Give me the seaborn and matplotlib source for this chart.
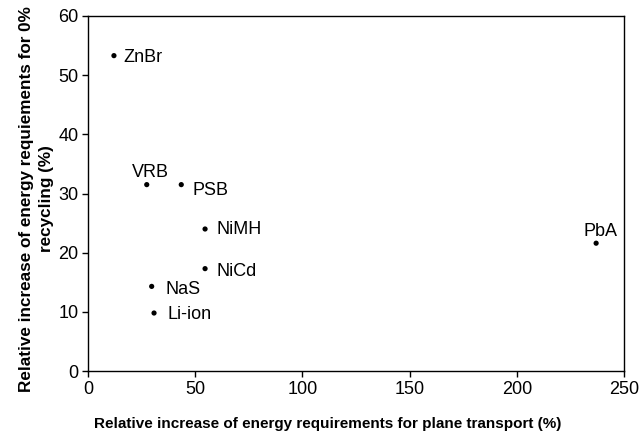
import matplotlib
matplotlib.use("Agg")
import matplotlib.pyplot as plt
import pandas as pd
import seaborn as sns

# --- Data ---
batteries = ["ZnBr", "VRB", "PSB", "NiMH", "NiCd", "NaS", "Li-ion", "PbA"]
plane_increase = [12.1, 27.4, 43.5, 54.6, 54.6, 29.7, 30.8, 237.0]
recycling_increase = [53.3, 31.5, 31.5, 24.0, 17.3, 14.3, 9.8, 21.6]

# label placement (offset in points, ha, va)
LABEL_POS = {
    "ZnBr": ((7, -1.5), "left", "center"),
    "VRB": ((3, 8.5), "center", "center"),
    "PSB": ((8, -4), "left", "center"),
    "NiMH": ((8, 0), "left", "center"),
    "NiCd": ((8, -2), "left", "center"),
    "NaS": ((10, -2), "left", "center"),
    "Li-ion": ((9.5, -1), "left", "center"),
    "PbA": ((3.5, 8.5), "center", "center"),
}

sns.set_style("ticks")
plt.rcParams["font.family"] = ["Liberation Sans", "DejaVu Sans"]
plt.rcParams["axes.labelcolor"] = "black"
plt.rcParams["text.color"] = "black"

df = pd.DataFrame({"battery": batteries,
                   "plane": plane_increase,
                   "recycling": recycling_increase})

fig = plt.figure(figsize=(6.44, 4.37), dpi=100)
ax = fig.add_axes([88 / 644, 1 - 371 / 437, 536 / 644, 355 / 437])

sns.scatterplot(data=df, x="plane", y="recycling", ax=ax,
                color="black", s=14, edgecolor="none", zorder=3)

for _, row in df.iterrows():
    off, ha, va = LABEL_POS[row["battery"]]
    ax.annotate(row["battery"], (row["plane"], row["recycling"]),
                xytext=off, textcoords="offset points",
                ha=ha, va=va, fontsize=13, color="black")

ax.set_xlim(0, 250)
ax.set_ylim(0, 60)
ax.set_xticks(range(0, 251, 50))
ax.set_yticks(range(0, 61, 10))
ax.tick_params(direction="out", length=4, width=1, labelsize=13,
               colors="black", pad=3)
for side in ["top", "right", "left", "bottom"]:
    ax.spines[side].set_visible(True)
    ax.spines[side].set_color("black")
    ax.spines[side].set_linewidth(1)

ax.set_xlabel("Relative increase of energy requirements for plane transport (%)",
              fontsize=11, fontweight="bold", color="black")
ax.set_ylabel("Relative increase of energy requiements for 0%\nrecycling (%)",
              fontsize=12.3, fontweight="bold", linespacing=1.4, color="black")
ax.xaxis.set_label_coords(0.448, -0.129)
ax.yaxis.set_label_coords(-0.064, 0.485)

fig.savefig("out.png", dpi=100)
